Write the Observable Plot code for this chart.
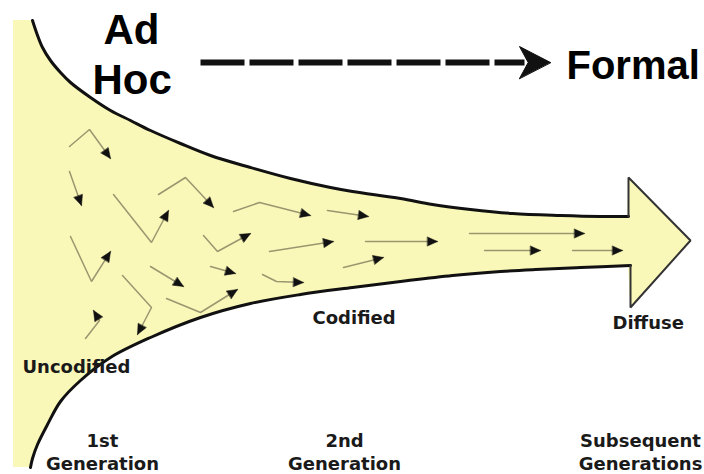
<!DOCTYPE html>
<html><head><meta charset="utf-8">
<script src="https://cdn.jsdelivr.net/npm/d3@7"></script>
<script src="https://cdn.jsdelivr.net/npm/@observablehq/plot@0.6"></script>
<style>body{margin:0;background:#fff;} svg{display:block}</style>
</head><body><div id="chart"></div>
<script>
const W = 704, H = 474;
const funnelFill = "#faf8b8";

// Funnel outline (diagram coordinates, y downwards)
const upperEdge = [[32,20],[36,32],[42,47],[50,60],[60,72],[70,82],[90,97],[110,110],[130,120],[150,130],[180,143],[210,155],[250,167],[290,178],[330,187],[352,191],[400,198],[432,204],[470,209],[512,213],[560,215],[600,216],[628,216]];
const lowerEdge = [[30,467],[32,458],[37,444],[47,424],[60,401],[80,380],[110,357],[150,337],[200,317],[250,303],[300,294],[352,287],[400,281],[452,275],[500,271],[535,269],[580,267],[630,265]];
const leftPanel = [{x1:13, x2:32, y1:20, y2:467}];
const headFill = [[628,177],[690,240],[630,307],[626,240],[628,177]];
const headOutline = [[628,216],[628,177],[690,240],[630,307],[630,265]];
const midLine = 240;

// Small flow arrows inside the funnel
const flowArrows = [
  [[69,146],[89,129],[110,158]],
  [[69,171],[81,205]],
  [[113,194],[151,242],[168,210]],
  [[70,236],[91,281],[110,251]],
  [[158,194],[185,177],[213,207]],
  [[233,211],[259,202],[310,215]],
  [[203,235],[217,251],[250,233]],
  [[210,266],[235,273]],
  [[150,266],[183,286]],
  [[122,275],[151,307],[137,334]],
  [[166,298],[200,312],[237,289]],
  [[85,338],[99,320],[93,310]],
  [[327,210],[368,216]],
  [[269,251],[333,241]],
  [[365,241],[437,241]],
  [[343,267],[383,257]],
  [[262,274],[276,281],[303,282]],
  [[469,233],[584,233]],
  [[484,250],[540,250]],
  [[572,250],[622,250]]
];

// Big "Ad Hoc ----> Formal" arrow
const dashedLine = [[200,62],[524,62]];
const dashedTip = [{x:550, y:62, angle:90}];

const bigLabels = [
  {text:"Ad", x:103, y:43},
  {text:"Hoc", x:92, y:93}
];
const endLabel = [{text:"Formal", x:566, y:78}];
const stageLabels = [
  {text:"Uncodified", x:22, y:372},
  {text:"Codified", x:312, y:323},
  {text:"Diffuse", x:612, y:328}
];
const genLabels = [
  {text:"1st\nGeneration", x:102, y:469},
  {text:"2nd\nGeneration", x:344, y:469},
  {text:"Subsequent\nGenerations", x:640, y:469}
];

const pts = a => a.map(([x,y]) => ({x, y}));
const shaftRows = flowArrows.flatMap((a, i) => a.map(([x,y]) => ({x, y, id:i})));
const heads = flowArrows.map(a => {
  const [x0,y0] = a[a.length-2], [x1,y1] = a[a.length-1];
  return {x:x1, y:y1, angle: Math.atan2(x1-x0, -(y1-y0)) * 180 / Math.PI};
});

const triShape = {draw(ctx, l) { ctx.moveTo(-4.5, 0); ctx.lineTo(0, -l); ctx.lineTo(4.5, 0); ctx.closePath(); }};
const bigHeadShape = {draw(ctx, l) { ctx.moveTo(0, -l); ctx.lineTo(-16, 0); ctx.lineTo(0, -l*0.28); ctx.lineTo(16, 0); ctx.closePath(); }};

const chart = Plot.plot({
  width: W, height: H,
  margin: 0,
  x: {domain:[0, W], range:[0, W], axis:null},
  y: {domain:[0, H], range:[0, H], axis:null},
  style: {background:"white", overflow:"hidden"},
  marks: [
    Plot.rect(leftPanel, {x1:"x1", x2:"x2", y1:"y1", y2:"y2", fill:funnelFill}),
    Plot.areaY(pts(upperEdge), {x:"x", y1:midLine, y2:"y", curve:"catmull-rom", fill:funnelFill}),
    Plot.areaY(pts(lowerEdge), {x:"x", y1:midLine, y2:"y", curve:"catmull-rom", fill:funnelFill}),
    Plot.line(pts(headFill), {x:"x", y:"y", fill:funnelFill, stroke:"none"}),
    Plot.line(pts(upperEdge), {x:"x", y:"y", curve:"catmull-rom", stroke:"#111", strokeWidth:3}),
    Plot.line(pts(lowerEdge), {x:"x", y:"y", curve:"catmull-rom", stroke:"#111", strokeWidth:3}),
    Plot.line(pts(headOutline), {x:"x", y:"y", stroke:"#333", strokeWidth:2, strokeLinejoin:"miter"}),
    Plot.line(shaftRows, {x:"x", y:"y", z:"id", stroke:"#9a9670", strokeWidth:1.5, strokeLinejoin:"miter"}),
    Plot.vector(heads, {x:"x", y:"y", rotate:"angle", length:10, anchor:"end", shape:triShape, fill:"#111", stroke:"#111", strokeWidth:0.5}),
    Plot.line(pts(dashedLine), {x:"x", y:"y", stroke:"#111", strokeWidth:6, strokeDasharray:"44,5", strokeLinecap:"butt"}),
    Plot.vector(dashedTip, {x:"x", y:"y", rotate:"angle", length:31, anchor:"end", shape:bigHeadShape, fill:"#111", stroke:"#111", strokeWidth:1}),
    Plot.text(bigLabels, {x:"x", y:"y", text:"text", fontSize:42, fontWeight:"bold", fontFamily:"Liberation Sans, Arial, sans-serif", textAnchor:"start", lineAnchor:"bottom", fill:"#000"}),
    Plot.text(endLabel, {x:"x", y:"y", text:"text", fontSize:40, fontWeight:"bold", fontFamily:"Liberation Sans, Arial, sans-serif", textAnchor:"start", lineAnchor:"bottom", fill:"#000"}),
    Plot.text(stageLabels, {x:"x", y:"y", text:"text", fontSize:18, fontWeight:"bold", fontFamily:"DejaVu Sans, sans-serif", textAnchor:"start", lineAnchor:"bottom", fill:"#1a1a1a"}),
    Plot.text(genLabels, {x:"x", y:"y", text:"text", fontSize:18, lineHeight:1.25, fontWeight:"bold", fontFamily:"DejaVu Sans, sans-serif", textAnchor:"middle", lineAnchor:"bottom", fill:"#1a1a1a"})
  ]
});
document.getElementById("chart").appendChild(chart);
</script>
</body></html>
